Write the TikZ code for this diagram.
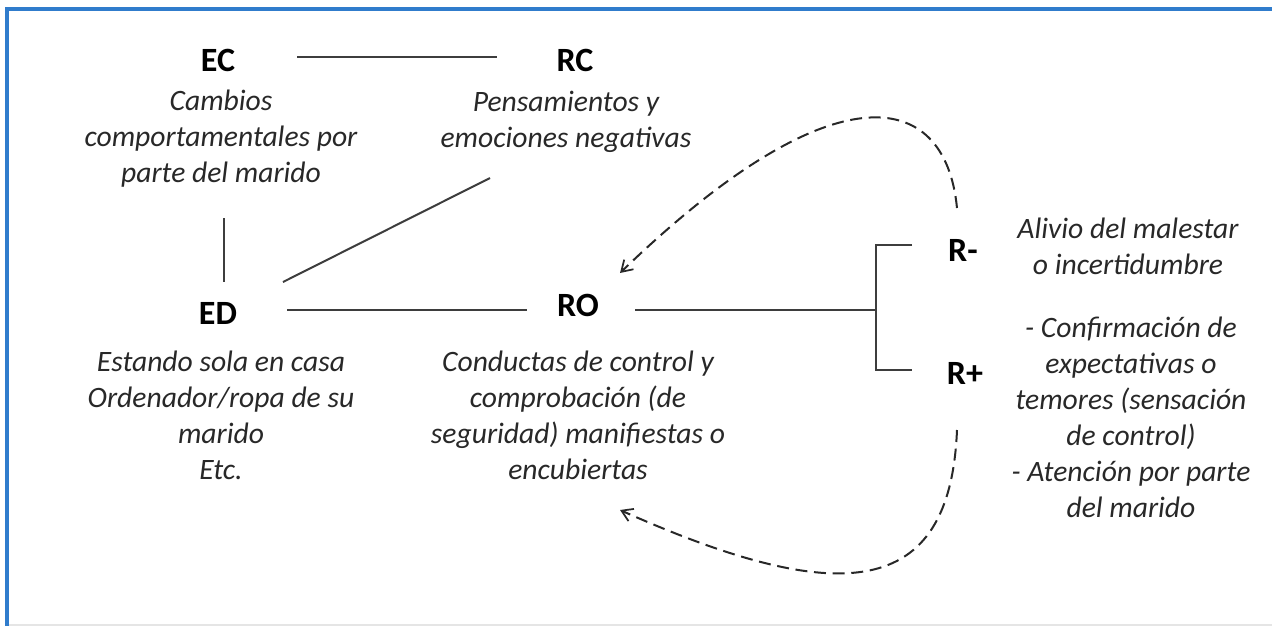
\documentclass[tikz,border=0pt]{standalone}
\usepackage{fontspec}
\setmainfont{Carlito}
\usetikzlibrary{arrows.meta,calc}
\definecolor{frameblue}{RGB}{48,124,204}
\definecolor{inkgray}{RGB}{40,40,40}
\tikzset{
  lbl/.style={inner sep=0pt, font=\bfseries\fontsize{25.5}{27}\selectfont, text=black},
  txt/.style={inner sep=0pt, align=center, text=inkgray,
    font=\itshape\fontsize{22.2}{27}\selectfont},
  link/.style={draw=inkgray!90, line width=1.5pt},
  back/.style={draw=inkgray, line width=1.5pt, dash pattern=on 9pt off 5pt,
    -{Straight Barb[length=8pt,width=10pt,line width=1.3pt]}}
}
\begin{document}
\begin{tikzpicture}[x=0.75pt, y=-0.75pt]
  \useasboundingbox (0,0) rectangle (1272,626);
  % frame
  \draw[frameblue, line width=2.6pt] (1272,9) -- (7,9) -- (7,626);
  \draw[black!10, line width=0.8pt] (9,625) -- (1272,625);
  % labels
  \node[lbl] (EC) at (218,60) {EC};
  \node[lbl] (RC) at (575,60) {RC};
  \node[lbl] (ED) at (218,313) {ED};
  \node[lbl] (RO) at (578,305) {RO};
  \node[lbl] (Rm) at (963,250) {R-};
  \node[lbl] (Rp) at (965,373) {R+};
  % texts
  \node[txt] (ECt) at (221,139) {Cambios\\comportamentales por\\parte del marido};
  \node[txt] (RCt) at (566,121.5) {Pensamientos y\\emociones negativas};
  \node[txt] (EDt) at (221,415.5) {Estando sola en casa\\Ordenador/ropa de su\\marido\\Etc.};
  \node[txt] (ROt) at (578,415.5) {Conductas de control y\\comprobación (de\\seguridad) manifiestas o\\encubiertas};
  \node[txt] (Rmt) at (1128,246.5) {Alivio del malestar\\o incertidumbre};
  \node[txt] (Rpt) at (1131,417.5) {- Confirmación de\\expectativas o\\temores (sensación\\de control)\\- Atención por parte\\del marido};
  \coordinate (br) at (876,310);
  \begin{scope}[link]
    \draw ($(EC)+(79,-3)$) -- ($(RC)+(-78,-3)$);
    \draw ($(ECt)+(3,79)$) -- ($(ED)+(6,-31)$);
    \draw ($(ED)+(65,-31)$) -- ($(RCt)+(-76,56.5)$);
    \draw ($(ED)+(69,-3)$) -- ($(RO)+(-51,5)$);
    \draw ($(RO)+(57,5)$) -- (br);
    \draw ($(Rm)+(-51,-5)$) -| (br) |- ($(Rp)+(-53,-3)$);
  \end{scope}
  \begin{scope}[back]
    \draw ($(Rm)+(-6,-42)$) .. controls (945,85) and (830,70) .. ($(RO)+(42,-32)$);
    \draw ($(Rp)+(-8,57)$) .. controls (950,600) and (840,608) .. ($(RO)+(42,205)$);
  \end{scope}
\end{tikzpicture}
\end{document}
